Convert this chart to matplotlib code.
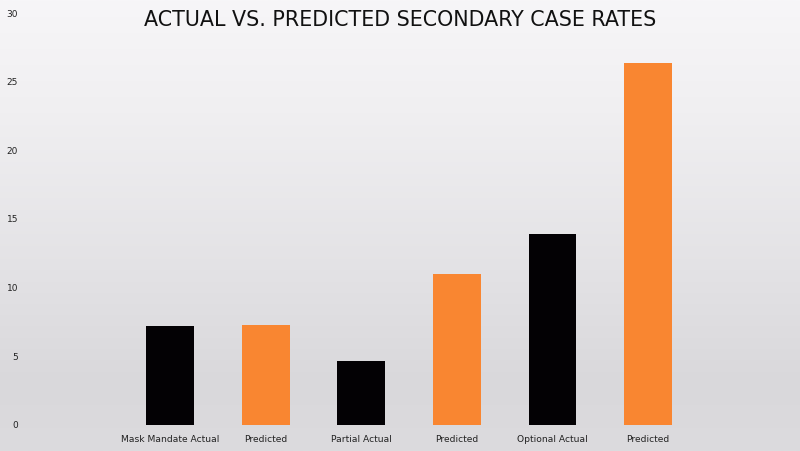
import numpy as np
import matplotlib
matplotlib.use("Agg")
import matplotlib.pyplot as plt
from matplotlib.colors import LinearSegmentedColormap

categories = ["Mask Mandate Actual", "Predicted", "Partial Actual", "Predicted", "Optional Actual", "Predicted"]
values = [7.22, 7.27, 4.62, 10.97, 13.93, 26.38]
bar_colors = ["#030104", "#f98631", "#030104", "#f98631", "#030104", "#f98631"]
yticks = [0, 5, 10, 15, 20, 25, 30]
title = "ACTUAL VS. PREDICTED SECONDARY CASE RATES"

W, H = 800, 451
fig = plt.figure(figsize=(W / 100, H / 100), dpi=100)

# background gradient
bg = fig.add_axes([0, 0, 1, 1], zorder=0)
bg.set_axis_off()
grad = LinearSegmentedColormap.from_list(
    "bg", [(0.0, "#f7f6f8"), (0.25, "#f0eff1"), (0.6, "#e3e2e5"), (0.85, "#d9d8db"), (1.0, "#dcdbde")])
bg.imshow(np.linspace(0, 1, 256).reshape(-1, 1), aspect="auto", cmap=grad,
          extent=[0, 1, 0, 1], origin="upper")
bg.set_xlim(0, 1)
bg.set_ylim(0, 1)

# main axes: pixel coordinates -> figure fraction
left_px, right_px = 30, 790
y0_px, y30_px = 424.7, 13.3
ax = fig.add_axes([left_px / W, 1 - y0_px / H, (right_px - left_px) / W, (y0_px - y30_px) / H], zorder=1)
ax.patch.set_alpha(0)
x = np.arange(len(categories))
ax.bar(x, values, width=0.5, color=bar_colors)
ax.set_xlim((left_px - 170) / 95.6, (right_px - 170) / 95.6)
ax.set_ylim(0, 30)
for s in ax.spines.values():
    s.set_visible(False)
ax.set_yticks(yticks)
ax.set_yticklabels([str(t) for t in yticks], fontsize=6.5, color="#222222", family="DejaVu Sans")
ax.tick_params(axis="y", length=0, pad=8.6)
ax.set_xticks(x)
ax.set_xticklabels(categories, fontsize=6.6, color="#222222", family="DejaVu Sans")
ax.tick_params(axis="x", length=0, pad=7.5)

fig.text(0.5, 1 - 20 / H, title, ha="center", va="center", fontsize=14.9, color="#111111",
         family="DejaVu Sans", fontweight="medium")

fig.savefig("out.png", dpi=100)
